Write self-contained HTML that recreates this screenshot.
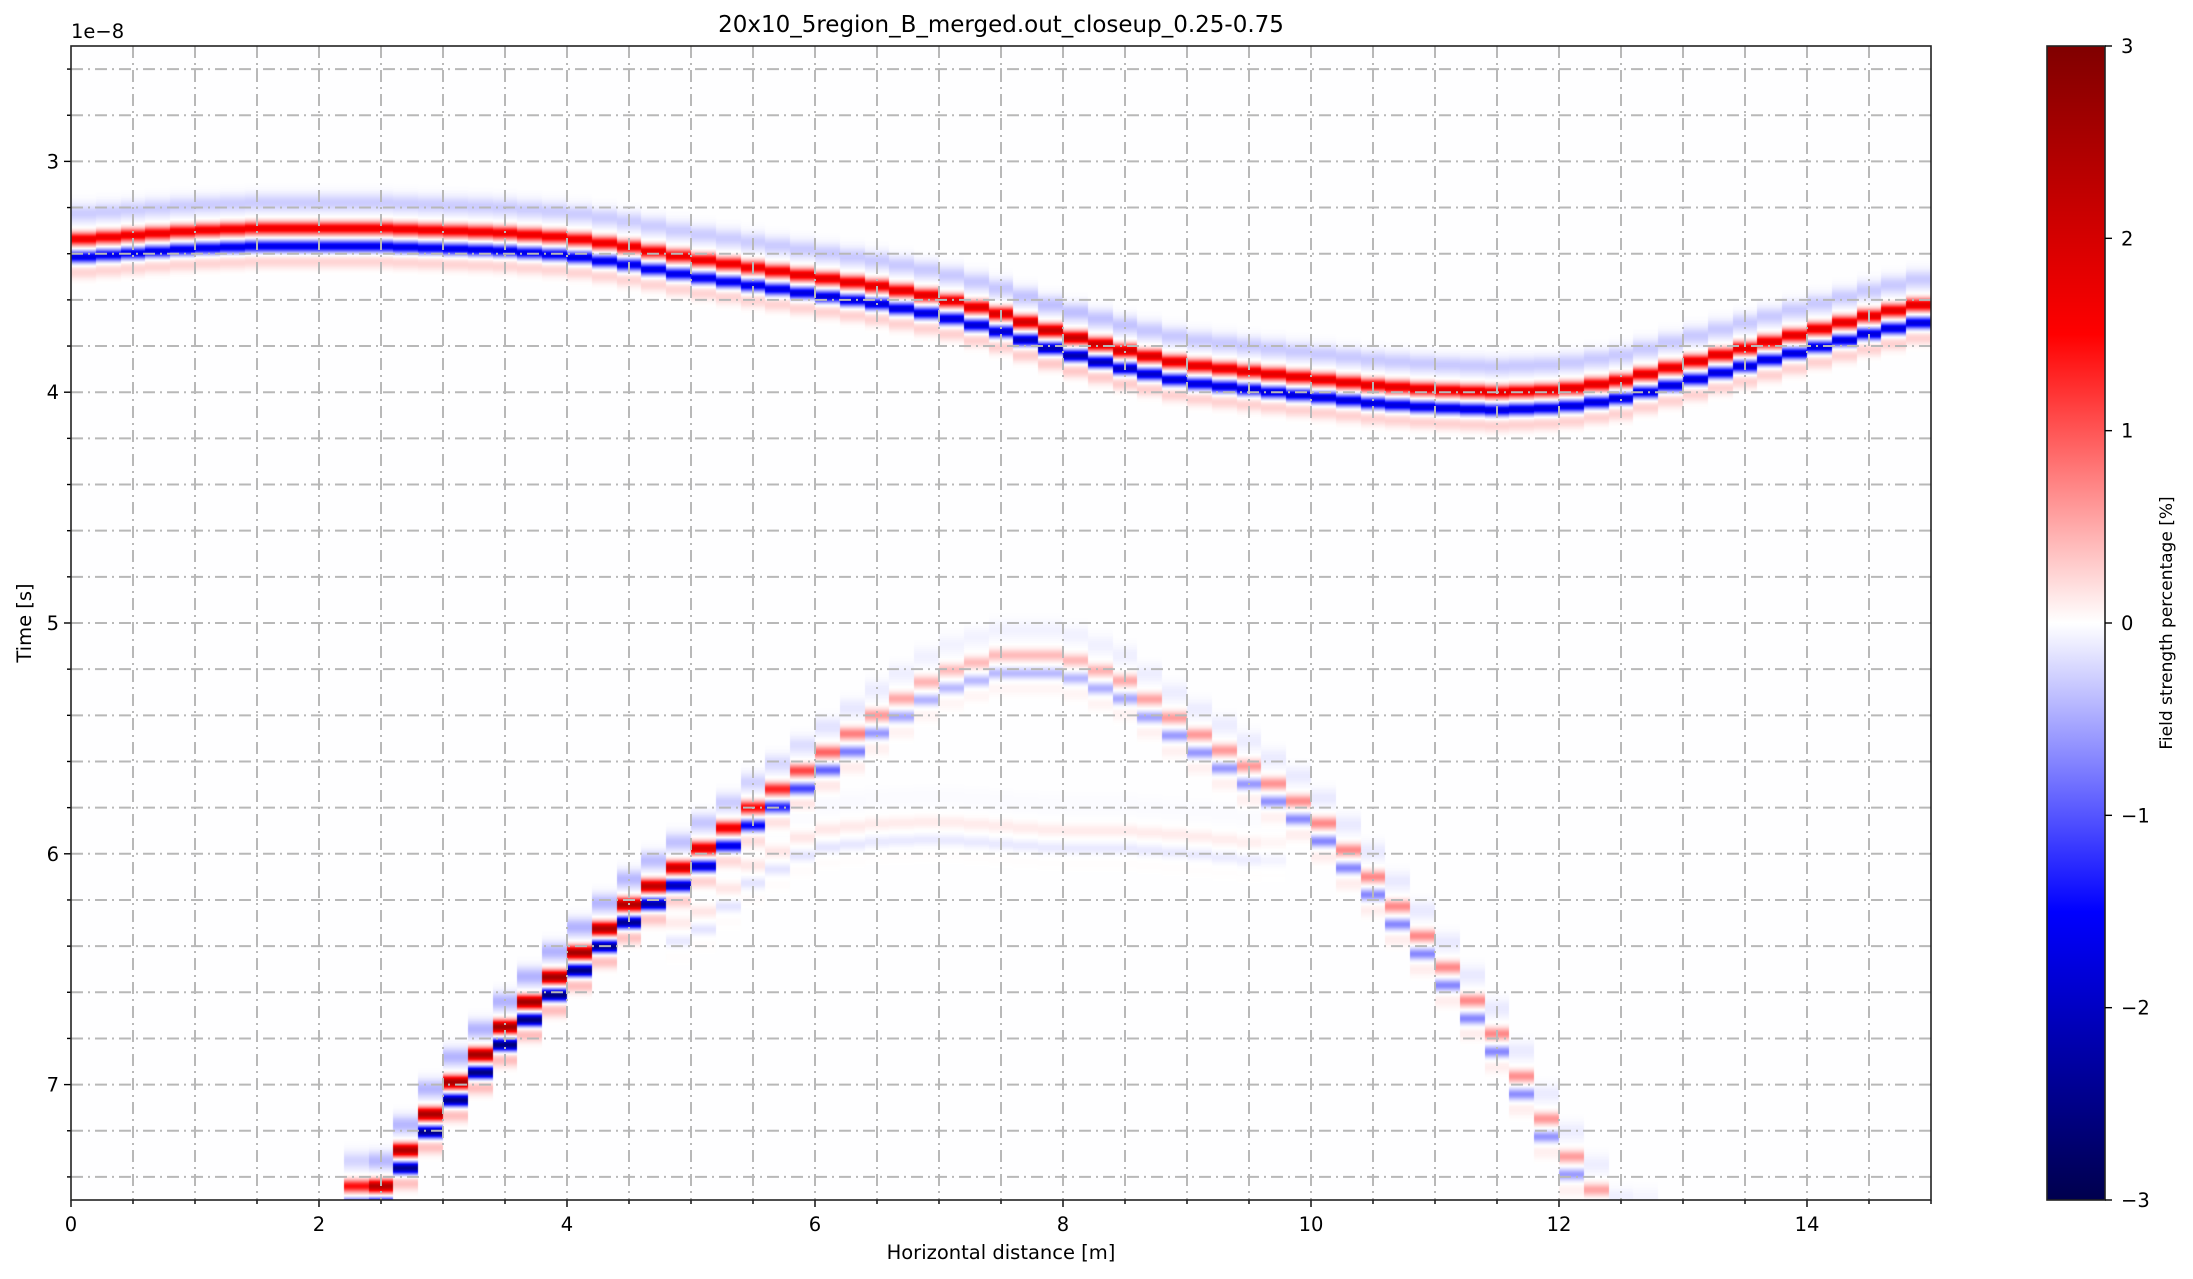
<!DOCTYPE html>
<html><head><meta charset="utf-8">
<style>
body{margin:0;background:#fff;width:2193px;height:1279px;overflow:hidden;font-family:"DejaVu Sans","Liberation Sans",sans-serif;}
#wrap{position:relative;width:2193px;height:1279px;}
canvas{position:absolute;left:71px;top:46px;}
svg{position:absolute;left:0;top:0;}
</style></head>
<body>
<div id="wrap">
<canvas id="img" width="1860" height="1154"></canvas>
<svg id="ax" width="2193" height="1279"></svg>
</div>
<script>
// ---- data (times in units of 1e-8 s, sampled every 0.5 m from 0 to 15) ----
const sampleStep = 0.5;
const directTimes = [3.34,3.32,3.30,3.29,3.29,3.29,3.30,3.31,3.33,3.37,3.42,3.46,3.50,3.54,3.59,3.66,3.75,3.82,3.88,3.91,3.94,3.97,3.99,4.00,3.99,3.95,3.88,3.81,3.74,3.67,3.61];
const directAmps  = [1.7,1.7,1.7,1.7,1.7,1.7,1.7,1.7,1.7,1.7,1.7,1.7,1.8,1.8,1.8,1.9,2.2,2.0,1.8,1.8,1.8,1.8,1.8,1.8,1.8,1.8,1.8,1.8,1.8,1.8,1.8];
const diffTimes = [null,null,null,null,null,7.44,7.05,6.75,6.48,6.22,6.02,5.80,5.60,5.40,5.22,5.14,5.14,5.25,5.45,5.62,5.81,6.10,6.42,6.78,7.24,7.60,null,null,null,null,null];
const diffAmps  = [0,0,0,0,0,2.4,2.5,2.6,2.6,2.4,2.0,1.5,1.0,0.6,0.4,0.4,0.4,0.5,0.6,0.6,0.7,0.7,0.7,0.7,0.6,0.5,0,0,0,0,0];
const ghostTimes = [null,null,null,null,null,null,null,null,null,null,6.30,6.05,5.90,5.87,5.86,5.88,5.90,5.90,5.92,5.95,null,null,null,null,null,null,null,null,null,null,null];
const ghostAmps  = [0,0,0,0,0,0,0,0,0,0,0.15,0.15,0.15,0.12,0.12,0.12,0.12,0.12,0.12,0.1,0,0,0,0,0,0,0,0,0,0,0];
const xTicks = [0,2,4,6,8,10,12,14];
const yTicks = [3,4,5,6,7];
const cbTicks = [-3,-2,-1,0,1,2,3];

const X0=71,X1=1931,Y0=46,Y1=1200,XMAX=15,TMIN=2.5,TMAX=7.5,VMIN=-3,VMAX=3;
const xs = m => X0 + m/XMAX*(X1-X0);
const ys = t => Y0 + (t-TMIN)/(TMAX-TMIN)*(Y1-Y0);

function interp(arr, x){
  const f = x/sampleStep, i = Math.floor(f), a = f-i;
  const v0 = arr[Math.max(0,Math.min(arr.length-1,i))], v1 = arr[Math.max(0,Math.min(arr.length-1,i+1))];
  if(v0==null && v1==null) return null;
  if(v0==null) return a>0.5?v1:null;
  if(v1==null) return a<0.5?v0:null;
  return v0*(1-a)+v1*a;
}
function wavelet(dt){
  const g=(c,w)=>Math.exp(-(((dt-c)/w)**2));
  return -0.17*g(-0.11,0.04) + 1.0*g(0,0.027) - 1.0*g(0.078,0.024) + 0.15*g(0.145,0.03);
}
function seismic(v){
  let s=(v-VMIN)/(VMAX-VMIN); s=Math.max(0,Math.min(1,s));
  const st=[[0,0,0,77],[0.25,0,0,255],[0.5,255,255,255],[0.75,255,0,0],[1,128,0,0]];
  for(let k=0;k<4;k++){ if(s<=st[k+1][0]){const a=(s-st[k][0])/(st[k+1][0]-st[k][0]);
    return [0,1,2].map(j=>Math.round(st[k][j+1]*(1-a)+st[k+1][j+1]*a));}}
  return [128,0,0];
}
// heatmap
const cv=document.getElementById('img'), ctx=cv.getContext('2d');
const W=cv.width,H=cv.height, im=ctx.createImageData(W,H);
const nTr=75, trW=XMAX/nTr;
for(let i=0;i<nTr;i++){
  const xc=(i+0.5)*trW;
  const td=interp(directTimes,xc), ad=interp(directAmps,xc);
  const tf=interp(diffTimes,xc), af=interp(diffAmps,xc)||0;
  const tg=interp(ghostTimes,xc), ag=interp(ghostAmps,xc)||0;
  const px0=Math.round(xs(i*trW)-X0), px1=Math.round(xs((i+1)*trW)-X0);
  for(let r=0;r<H;r++){
    const t=TMIN+(r+0.5)/H*(TMAX-TMIN);
    let v=-0.006;
    if(td!=null) v+=ad*wavelet(t-td);
    if(tf!=null) v+=af*wavelet(t-tf);
    if(tg!=null) v+=ag*wavelet(t-tg);
    const c=seismic(v);
    for(let p=px0;p<px1&&p<W;p++){const o=(r*W+p)*4;im.data[o]=c[0];im.data[o+1]=c[1];im.data[o+2]=c[2];im.data[o+3]=255;}
  }
}
ctx.putImageData(im,0,0);

// axes svg
const svg=document.getElementById('ax'), NS='http://www.w3.org/2000/svg';
function el(tag,attrs,parent){const e=document.createElementNS(NS,tag);for(const k in attrs)e.setAttribute(k,attrs[k]);(parent||svg).appendChild(e);return e;}
function txt(s,attrs){const e=el('text',attrs);e.textContent=s;return e;}
// grid
const grid=el('g',{stroke:'#b8b8b8','stroke-width':2,'stroke-dasharray':'12,5,2,5',fill:'none'});


for(let k=1;k<30;k++){el('line',{x1:xs(k*0.5),x2:xs(k*0.5),y1:Y0,y2:Y1},grid);}
for(let k=0;k<25;k++){const t=2.6+k*0.2;el('line',{x1:X0,x2:X1,y1:ys(t),y2:ys(t)},grid);}
// ticks
const tk=el('g',{stroke:'#000','stroke-width':1.4});


for(let k=0;k<=30;k++){const x=xs(k*0.5);const L=(k%4==0)?7:4;el('line',{x1:x,x2:x,y1:Y1,y2:Y1+L},tk);}
for(let k=0;k<25;k++){const t=2.6+k*0.2;const y=ys(t);const maj=Math.abs(t-Math.round(t))<1e-6;el('line',{x1:X0,x2:X0-(maj?7:4),y1:y,y2:y},tk);}
xTicks.forEach(v=>{const e=txt(String(v),{x:xs(v),y:Y1+31,'text-anchor':'middle','font-size':19.5});
  });
yTicks.forEach(v=>{const e=txt(String(v),{x:X0-12,y:ys(v)+7,'text-anchor':'end','font-size':19.5});
  });
const fr=el('rect',{x:X0,y:Y0,width:X1-X0,height:Y1-Y0,fill:'none',stroke:'#222','stroke-width':1.6});

let e;
e=txt('1e\u22128',{x:X0,y:Y0-8,'font-size':19.5});
e=txt('20x10_5region_B_merged.out_closeup_0.25-0.75',{x:(X0+X1)/2,y:32,'text-anchor':'middle','font-size':23});
e=txt('Horizontal distance [m]',{x:(X0+X1)/2,y:1259,'text-anchor':'middle','font-size':19.5});
e=txt('Time [s]',{x:0,y:0,'text-anchor':'middle','font-size':19.5,transform:`translate(31,${(Y0+Y1)/2}) rotate(-90)`});
// colorbar
const CB0=2047,CB1=2105;
const defs=el('defs',{});const lg=el('linearGradient',{id:'cbg',x1:0,y1:1,x2:0,y2:0},defs);
[[0,'rgb(0,0,77)'],[0.25,'rgb(0,0,255)'],[0.5,'rgb(255,255,255)'],[0.75,'rgb(255,0,0)'],[1,'rgb(128,0,0)']].forEach(s=>el('stop',{offset:s[0],'stop-color':s[1]},lg));
e=el('rect',{x:CB0,y:Y0,width:CB1-CB0,height:Y1-Y0,fill:'url(#cbg)',stroke:'#222','stroke-width':1.6});

const cy=v=>Y1-(v-VMIN)/(VMAX-VMIN)*(Y1-Y0);
cbTicks.forEach(v=>{el('line',{x1:CB1,x2:CB1+7,y1:cy(v),y2:cy(v),stroke:'#000','stroke-width':1.4});
  const t=txt(v<0?'\u2212'+(-v):String(v),{x:CB1+16,y:cy(v)+7,'font-size':19.5});
  });
e=txt('Field strength percentage [%]',{x:0,y:0,'text-anchor':'middle','font-size':17,transform:`translate(2172,${(Y0+Y1)/2}) rotate(-90)`});

</script>
</body></html>
